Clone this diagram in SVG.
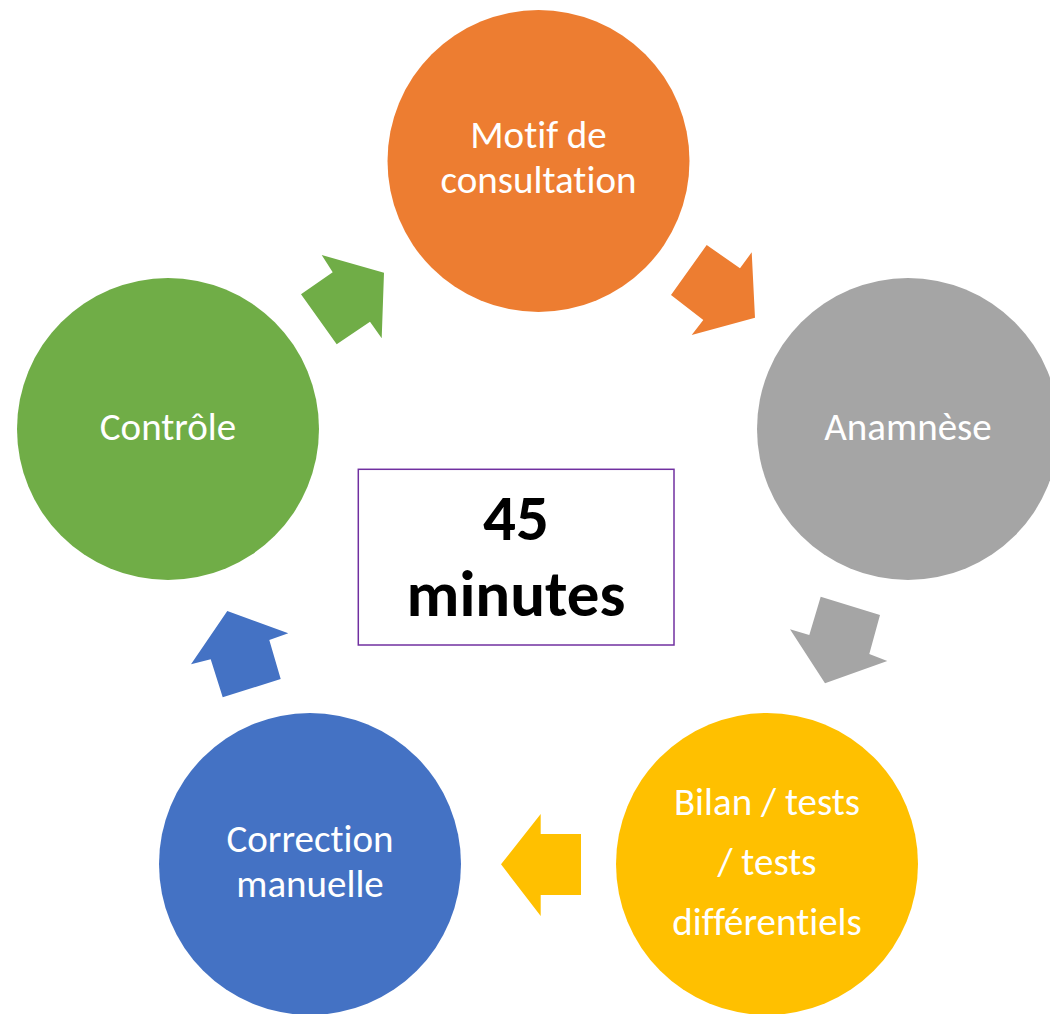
<svg xmlns="http://www.w3.org/2000/svg" width="1050" height="1014" viewBox="0 0 1050 1014">
<style>
.lbl{font-family:Carlito,Calibri,Lato,"Open Sans",sans-serif;font-size:39px;fill:#fff;text-anchor:middle;font-variant-ligatures:none}
.big{font-family:Carlito,Calibri,Lato,"Open Sans",sans-serif;font-size:65px;font-weight:bold;fill:#000;text-anchor:middle;font-variant-ligatures:none}
</style>
<rect width="1050" height="1014" fill="#fff"/>
<g id="connectors">
<polygon fill="#70AD47" points="321.7,255 384,272.7 381.7,338.3 370,321.7 336.7,344.3 301,294.3 332.7,272.3"/>
<polygon fill="#ED7D31" points="706.7,245 740,268.3 751.7,252.3 755,317.7 691.7,335 703.3,320 671,295"/>
<polygon fill="#A5A5A5" points="820.7,596.7 880,615 869.3,654 887.3,661 825,683.3 790,629.3 809.3,635"/>
<polygon fill="#FFC000" points="540.7,814 540.7,834 581,834 581,895 540.7,895 540.7,916 501,864.3"/>
<polygon fill="#4472C4" points="227.3,611 288.3,633.3 269.3,640 280.7,679 222.7,697.3 210.7,659.3 191,664.3"/>
</g>
<g id="motif">
<circle cx="538.5" cy="161" r="151" fill="#ED7D31"/>
<text class="lbl" x="538.5" y="148">Motif de</text>
<text class="lbl" x="538.5" y="192.5">consultation</text>
</g>
<g id="anamnese">
<circle cx="908" cy="429" r="151" fill="#A5A5A5"/>
<text class="lbl" x="908" y="440">Anamnèse</text>
</g>
<g id="bilan">
<circle cx="767" cy="864" r="151" fill="#FFC000"/>
<text class="lbl" x="767" y="815">Bilan / tests</text>
<text class="lbl" x="767" y="875">/ tests</text>
<text class="lbl" x="767" y="935">différentiels</text>
</g>
<g id="correction">
<circle cx="310" cy="864" r="151" fill="#4472C4"/>
<text class="lbl" x="310" y="852">Correction</text>
<text class="lbl" x="310" y="897">manuelle</text>
</g>
<g id="controle">
<circle cx="168" cy="429" r="151" fill="#70AD47"/>
<text class="lbl" x="168" y="440">Contrôle</text>
</g>
<g id="center">
<rect x="358.3" y="469.3" width="315.7" height="175.7" fill="#fff" stroke="#7030A0" stroke-width="1.5"/>
<text class="big" x="516" y="540">45</text>
<text class="big" x="516" y="616">minutes</text>
</g>
</svg>
